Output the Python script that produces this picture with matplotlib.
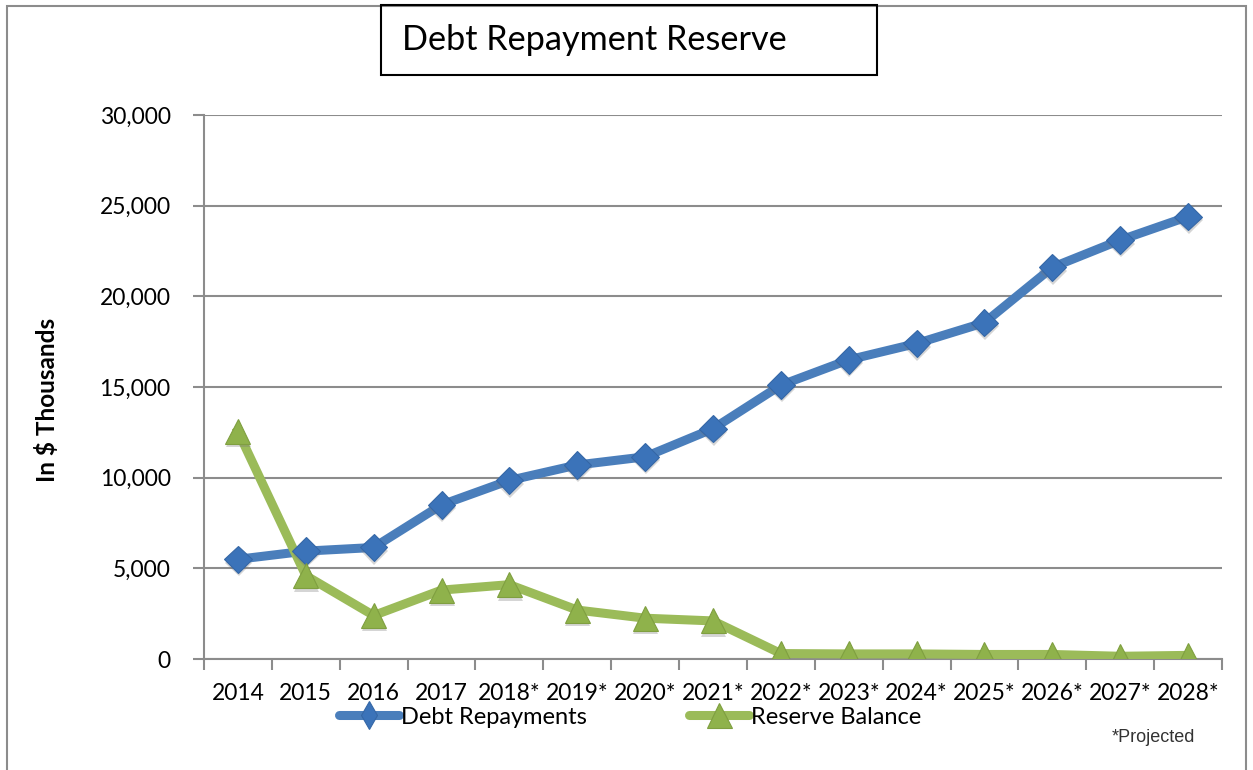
import matplotlib.pyplot as plt
import matplotlib.patheffects as pe
from matplotlib.lines import Line2D
from matplotlib.patches import Rectangle
from matplotlib.ticker import FuncFormatter, MultipleLocator

plt.rcParams['font.family'] = ['Lato', 'DejaVu Sans']

years = ['2014', '2015', '2016', '2017', '2018*', '2019*', '2020*', '2021*',
         '2022*', '2023*', '2024*', '2025*', '2026*', '2027*', '2028*']
debtRepayments = [5500, 5950, 6150, 8500, 9850, 10700, 11150, 12700,
                  15100, 16500, 17400, 18550, 21600, 23100, 24400]
reserveBalance = [12550, 4600, 2400, 3800, 4100, 2700, 2250, 2100,
                  300, 280, 280, 250, 250, 150, 200]

W, H = 1253, 770
fig = plt.figure(figsize=(W / 100, H / 100), dpi=100)
ax = fig.add_axes([204 / W, 1 - 659 / H, (1222 - 204) / W, (659 - 115) / H])

# outer chart border and boxed title
fig.patches.append(Rectangle((7 / W, -0.01), (1246 - 7) / W, 1 - 6 / H + 0.01,
                             transform=fig.transFigure, fill=False,
                             edgecolor='#8c8c8c', lw=1.5))
fig.patches.append(Rectangle((381 / W, 1 - 75 / H), (877 - 381) / W, 70 / H,
                             transform=fig.transFigure, fill=False,
                             edgecolor='black', lw=1.5))
fig.text(402 / W, 1 - 40 / H, 'Debt Repayment Reserve', fontsize=24.7,
         ha='left', va='center')

series = [
    (debtRepayments, 'Debt Repayments', '#4a7ebb', 'D', 'd', 14, '#3b73b9', '#3567a6'),
    (reserveBalance, 'Reserve Balance', '#9bbb59', '^', '^', 18, '#8fb24b', '#7f9f40'),
]
shadow = [pe.SimplePatchShadow(offset=(0.5, -2.5), shadow_rgbFace='#777777',
                               alpha=0.3), pe.Normal()]
x = range(len(years))
handles = []
for vals, name, lc, mk, legmk, ms, fc, ec in series:
    ax.plot(x, vals, color=lc, lw=6.5, solid_joinstyle='round', zorder=3)
    # markers drawn on their own so the drop shadow only falls under them
    ax.plot(x, vals, ls='none', marker=mk, ms=ms, mfc=fc, mec=ec, mew=0.8,
            path_effects=shadow, zorder=4)
    handles.append(Line2D([], [], color=lc, lw=6.5, solid_capstyle='round',
                          marker=legmk, ms=ms, mfc=fc, mec=ec, mew=0.8,
                          label=name))

ax.set_xlim(-0.5, len(years) - 0.5)
ax.set_ylim(0, 30000)
ax.yaxis.set_major_locator(MultipleLocator(5000))
ax.yaxis.set_major_formatter(FuncFormatter(lambda v, p: f'{int(v):,}'))
ax.set_xticks(list(x))
ax.set_xticklabels(years)
ax.set_xticks([i - 0.5 for i in range(len(years) + 1)], minor=True)
ax.tick_params(axis='x', which='major', length=0, pad=17, labelsize=16.5)
ax.tick_params(axis='x', which='minor', length=8, color='#8c8c8c', width=1.5,
               direction='out')
ax.tick_params(axis='y', length=8, color='#8c8c8c', width=1.5, labelsize=16.5,
               pad=16)
ax.grid(axis='y', color='#8c8c8c', lw=1.5)
ax.set_axisbelow(True)
for side in ['top', 'right']:
    ax.spines[side].set_visible(False)
for side in ['left', 'bottom']:
    ax.spines[side].set_color('#8c8c8c')
    ax.spines[side].set_linewidth(1.5)

fig.text(47 / W, 1 - 400 / H, 'In $ Thousands', rotation=90, fontsize=17.5,
         fontweight='bold', ha='center', va='center')

ax.legend(handles=handles, loc='center', bbox_to_anchor=(630 / W, 1 - 717 / H),
          bbox_transform=fig.transFigure, ncol=2, frameon=False,
          fontsize=17, handlelength=2.55, handletextpad=0.08,
          columnspacing=4.3, borderpad=0)

fig.text(1195 / W, 1 - 738 / H, '*Projected', fontsize=13, color='#333333',
         family='Liberation Sans', ha='right', va='center')

fig.savefig('out.png', dpi=100)
